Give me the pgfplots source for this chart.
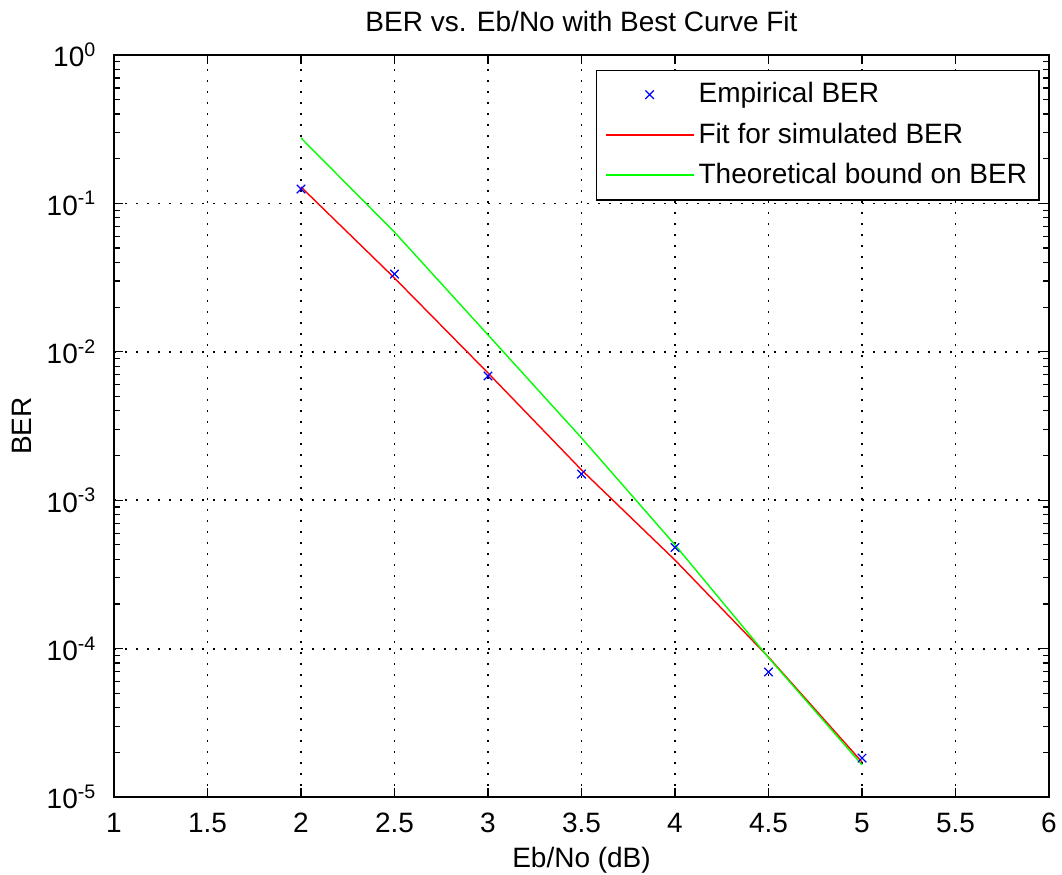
\documentclass[border=0pt]{standalone}
\usepackage{fontspec}
\setmainfont{Liberation Sans}
\usepackage{pgfplots}
\pgfplotsset{compat=1.18}
\definecolor{mgreen}{rgb}{0,1,0}
\definecolor{mred}{rgb}{1,0,0}
\definecolor{mblue}{rgb}{0,0,1}
\pgfplotsset{
  marklegend/.style={legend image code/.code={\draw[mark repeat=2,mark phase=2,##1] plot coordinates {(0pt,0pt) (22pt,0pt) (44pt,0pt)};}},
  redlegend/.style={legend image code/.code={\draw[draw=mred, line width=1pt] (0pt,0pt) -- (44pt,0pt);}},
  greenlegend/.style={legend image code/.code={\draw[draw=mgreen, line width=1pt] (0pt,0.25pt) -- (44pt,0.25pt);}},
}
\begin{document}
\fontsize{14}{16}\selectfont
\begin{tikzpicture}
\begin{axis}[
  name=ax,
  scale only axis,
  width=467.5pt, height=371pt,
  ymode=log,
  xmin=1, xmax=6, ymin=1e-5, ymax=1,
  xtick={1,1.5,...,6},
  xticklabels={1,1.5,2,2.5,3,3.5,4,4.5,5,5.5,6},
  ytick={1e-5,1e-4,1e-3,1e-2,1e-1,1},
  yticklabels={10\textsuperscript{-5},10\textsuperscript{-4},10\textsuperscript{-3},10\textsuperscript{-2},10\textsuperscript{-1},10\textsuperscript{0}},
  /pgf/number format/assume math mode=true,
  tick align=inside,
  major tick length=4.5pt,
  minor tick length=3pt,
  tick style={black, line width=0.6pt},
  axis line style={black, line width=0.6pt},
  grid=major,
  major grid style={black, line width=0.9pt, dash pattern=on 0.9pt off 4.6pt},
  ticklabel style={font=\fontsize{14}{16}\selectfont},
  xticklabel style={yshift=-3pt},
  yticklabel style={xshift=-4pt},
  xlabel={Eb/No (dB)},
  ylabel={BER},
  label style={font=\fontsize{14}{16}\selectfont},
  xlabel style={yshift=2pt},
  ylabel style={yshift=-2pt},
  title={BER vs. Eb/No with Best Curve Fit},
  title style={font=\fontsize{14}{16}\selectfont, yshift=1pt},
  legend style={at={(0.99,0.98)}, anchor=north east, draw=black, line width=0.6pt,
    font=\fontsize{14}{16}\selectfont, row sep=4pt, inner sep=4pt,
    /tikz/every even column/.append style={column sep=4pt}},
  legend cell align=left,
]
\addplot[only marks, mark=x, mark size=3pt, color=mblue, line width=0.6pt, marklegend]
  coordinates {(2,0.125) (2.5,0.0334) (3,0.00687) (3.5,0.00150) (4,4.8e-4) (4.5,6.96e-5) (5,1.83e-5)};
\addlegendentry{Empirical BER}
\addplot[color=mred, line width=0.7pt, redlegend]
  coordinates {(2,0.129) (2.5,0.0314) (3,0.00720) (3.5,0.00160) (4,3.95e-4) (4.5,8.77e-5) (5,1.72e-5)};
\addlegendentry{Fit for simulated BER}
\addplot[color=mgreen, line width=0.7pt, greenlegend]
  coordinates {(2,0.276) (2.5,0.064) (3,0.013) (3.5,0.00263) (4,5.0e-4) (4.5,8.7e-5) (5,1.65e-5)};
\addlegendentry{Theoretical bound on BER}
\end{axis}
\pgfresetboundingbox
\path ([shift={(-57pt,-38.5pt)}]ax.south west) rectangle ([shift={(6.5pt,27.5pt)}]ax.north east);
\end{tikzpicture}
\end{document}
